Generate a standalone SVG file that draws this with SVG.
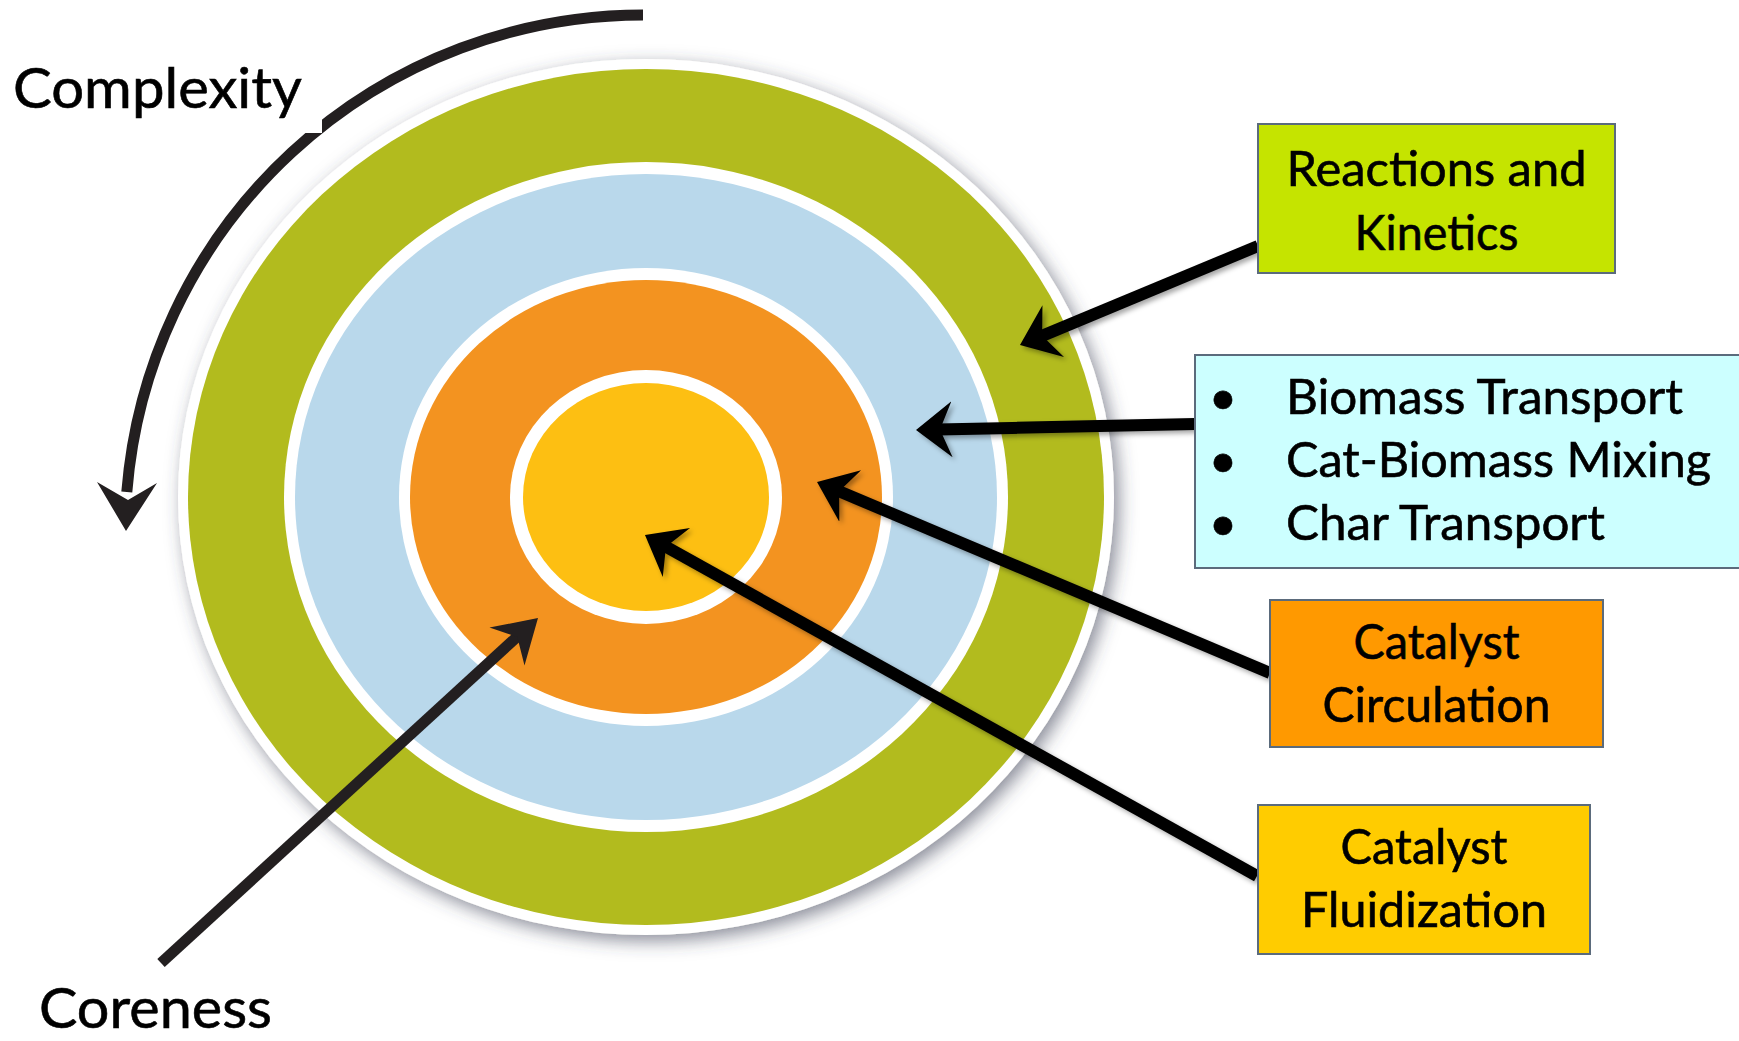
<svg xmlns="http://www.w3.org/2000/svg" width="1739" height="1041" viewBox="0 0 1739 1041">
  <style>
    .lbl { font-family: Lato, "Open Sans", "Liberation Sans", sans-serif; fill: #000; stroke: #000; stroke-width: 0.6px; }
    .box { stroke: #5B6B7C; stroke-width: 2; }
    .bt { font-size: 49px; }
    .big { font-size: 57px; }
    .ring-w { fill: #FFFFFF; }
    .arrow { stroke: #000; stroke-width: 12; fill: none; }
    .dark { stroke: #231F20; stroke-width: 11; fill: none; }
  </style>
  <defs>
    <filter id="ringShadow" x="-10%" y="-10%" width="125%" height="125%">
      <feDropShadow dx="5" dy="6" stdDeviation="9" flood-color="#3A3F55" flood-opacity="0.6"/>
    </filter>
    <filter id="arrowShadow" x="-10%" y="-10%" width="130%" height="130%">
      <feDropShadow dx="3" dy="3" stdDeviation="2.5" flood-color="#000" flood-opacity="0.35"/>
    </filter>
    <marker id="ah" viewBox="0 -30 40 60" refX="14" refY="0" markerWidth="40" markerHeight="60" markerUnits="userSpaceOnUse" orient="auto">
      <path d="M0,-28 L36,0 L0,28 L12,0 Z" fill="#000"/>
    </marker>
  </defs>

  <rect width="1739" height="1041" fill="#FFFFFF"/>

  <g id="rings">
    <ellipse cx="646" cy="497" rx="468" ry="438" class="ring-w" filter="url(#ringShadow)"/>
    <ellipse cx="646" cy="497" rx="458" ry="428" fill="#B2BB1E"/>
    <ellipse cx="646" cy="497" rx="362" ry="335" class="ring-w"/>
    <ellipse cx="646" cy="497" rx="351" ry="323" fill="#B9D8EB"/>
    <ellipse cx="646" cy="497" rx="247" ry="229" class="ring-w"/>
    <ellipse cx="646" cy="497" rx="236" ry="217" fill="#F39320"/>
    <ellipse cx="646" cy="497" rx="136" ry="127" class="ring-w"/>
    <ellipse cx="646" cy="497" rx="123" ry="114" fill="#FDBF12"/>
  </g>

  <g id="connectors">
    <path id="complexity-arc" class="dark" d="M643,15 A518,518 0 0,0 126.8,492"/>
    <path d="M97,482 L126,531 L157,483 L128,500 Z" fill="#231F20"/>
    <line id="coreness-arrow" class="dark" x1="161" y1="963" x2="518" y2="636"/>
    <path d="M538,618 L524.5,665.5 L517.3,636.9 L489.5,627.5 Z" fill="#231F20"/>
    <g filter="url(#arrowShadow)">
      <line class="arrow" x1="1258" y1="246" x2="1040.3" y2="336.6" marker-end="url(#ah)"/>
      <line class="arrow" x1="1195" y1="424" x2="938" y2="429.5" marker-end="url(#ah)"/>
      <line class="arrow" x1="1270" y1="673" x2="837.3" y2="490.5" marker-end="url(#ah)"/>
      <line class="arrow" x1="1257" y1="876" x2="664.2" y2="545.7" marker-end="url(#ah)"/>
    </g>
  </g>

  <g id="complexity-label">
    <rect x="0" y="50" width="322" height="83" fill="#FFFFFF"/>
    <text class="lbl big" x="13" y="108" textLength="289" lengthAdjust="spacingAndGlyphs">Complexity</text>
  </g>

  <g id="coreness-label">
    <text class="lbl big" x="39" y="1028" textLength="233" lengthAdjust="spacingAndGlyphs">Coreness</text>
  </g>

  <g id="node-reactions">
    <rect class="box" x="1258" y="124" width="357" height="149" fill="#C5E400"/>
    <text class="lbl bt" x="1436.5" y="186" text-anchor="middle" textLength="300" lengthAdjust="spacingAndGlyphs">Reactions and</text>
    <text class="lbl bt" x="1436.5" y="250" text-anchor="middle" textLength="164" lengthAdjust="spacingAndGlyphs">Kinetics</text>
  </g>

  <g id="node-transport">
    <rect class="box" x="1195" y="355" width="560" height="213" fill="#CCFFFF"/>
    <text class="lbl bt" x="1223" y="414" text-anchor="middle">•</text>
    <text class="lbl bt" x="1223" y="477" text-anchor="middle">•</text>
    <text class="lbl bt" x="1223" y="540" text-anchor="middle">•</text>
    <text class="lbl bt" x="1286" y="414" textLength="397" lengthAdjust="spacingAndGlyphs">Biomass Transport</text>
    <text class="lbl bt" x="1286" y="477" textLength="425" lengthAdjust="spacingAndGlyphs">Cat-Biomass Mixing</text>
    <text class="lbl bt" x="1286" y="540" textLength="319" lengthAdjust="spacingAndGlyphs">Char Transport</text>
  </g>

  <g id="node-circulation">
    <rect class="box" x="1270" y="600" width="333" height="147" fill="#FF9900"/>
    <text class="lbl bt" x="1436.5" y="659" text-anchor="middle" textLength="166" lengthAdjust="spacingAndGlyphs">Catalyst</text>
    <text class="lbl bt" x="1436.5" y="722" text-anchor="middle" textLength="228" lengthAdjust="spacingAndGlyphs">Circulation</text>
  </g>

  <g id="node-fluidization">
    <rect class="box" x="1258" y="805" width="332" height="149" fill="#FFCC00"/>
    <text class="lbl bt" x="1424" y="864" text-anchor="middle" textLength="167" lengthAdjust="spacingAndGlyphs">Catalyst</text>
    <text class="lbl bt" x="1424" y="927" text-anchor="middle" textLength="246" lengthAdjust="spacingAndGlyphs">Fluidization</text>
  </g>
</svg>
